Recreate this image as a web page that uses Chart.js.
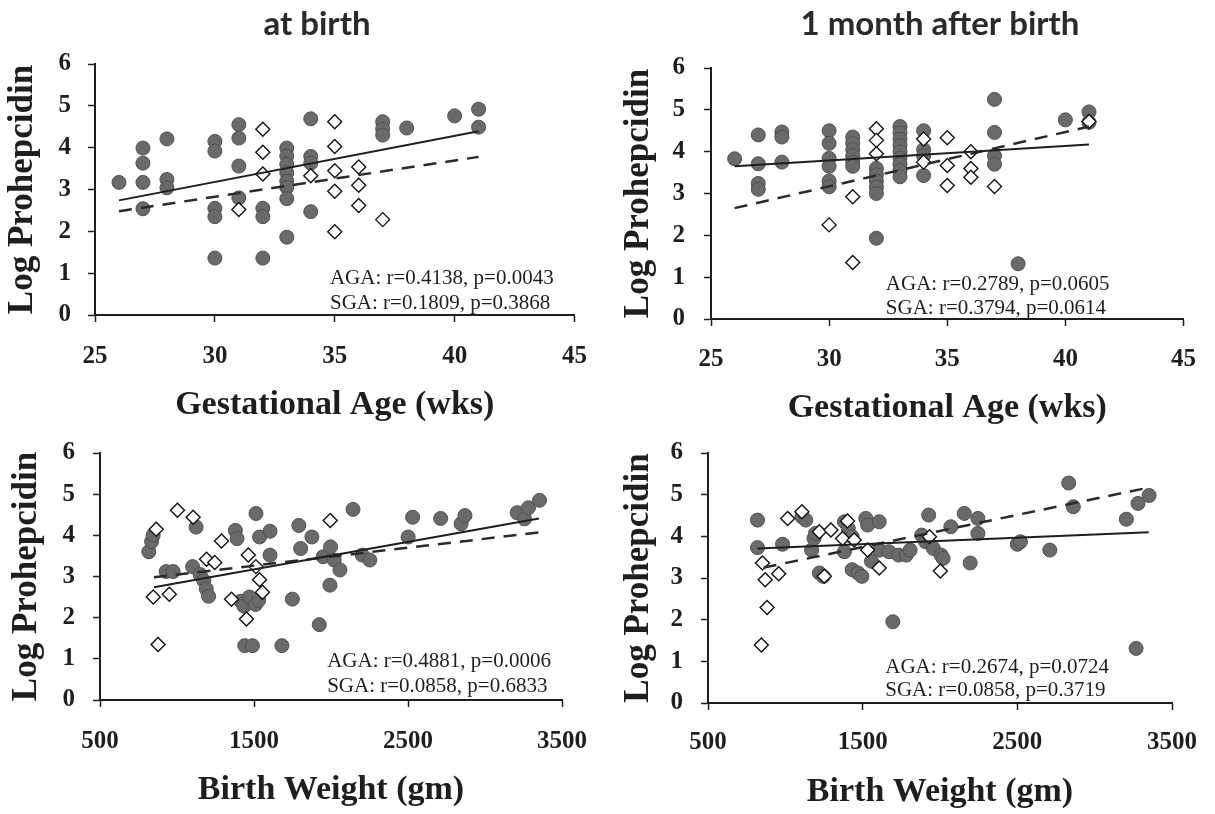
<!DOCTYPE html>
<html>
<head>
<meta charset="utf-8">
<script src="https://cdn.jsdelivr.net/npm/chart.js@4.4.1/dist/chart.umd.min.js"></script>
<style>
  html, body { margin: 0; padding: 0; background: #ffffff; }
  body { width: 1215px; height: 814px; position: relative; overflow: hidden; }
  canvas { position: absolute; }
</style>
</head>
<body>
<canvas id="c1" width="607" height="430" style="left:0px;top:0px;width:607px;height:430px"></canvas>
<canvas id="c2" width="608" height="430" style="left:607px;top:0px;width:608px;height:430px"></canvas>
<canvas id="c3" width="607" height="394" style="left:0px;top:420px;width:607px;height:394px"></canvas>
<canvas id="c4" width="608" height="394" style="left:607px;top:420px;width:608px;height:394px"></canvas>
<script>
// ---------- DATA ----------
const panelTitles = ['at birth', '1 month after birth'];
const yTitle = 'Log Prohepcidin';
const xTitleGA = 'Gestational Age (wks)';
const xTitleBW = 'Birth Weight (gm)';
const gaTicks = [25, 30, 35, 40, 45];
const bwTicks = [500, 1500, 2500, 3500];
const yTicks = [0, 1, 2, 3, 4, 5, 6];

// Panel 1: gestational age vs log prohepcidin at birth
const gaBirthAGA = [
  [26,3.17],
  [27,3.99],[27,3.63],[27,3.17],[27,2.54],
  [28,4.21],[28,3.24],[28,3.04],
  [30,4.15],[30,3.92],[30,2.55],[30,2.35],[30,1.36],
  [31,4.55],[31,4.23],[31,3.56],[31,2.80],
  [32,2.55],[32,2.35],[32,1.36],
  [33,3.99],[33,3.80],[33,3.60],[33,3.40],[33,3.20],[33,3.05],[33,2.78],[33,1.86],
  [34,4.69],[34,3.79],[34,3.63],[34,2.47],
  [37,4.62],[37,4.45],[37,4.30],
  [38,4.47],
  [40,4.76],
  [41,4.92],[41,4.49]
];
const gaBirthSGA = [
  [31,2.52],
  [32,4.44],[32,3.89],[32,3.37],
  [34,3.33],
  [35,4.62],[35,4.03],[35,3.45],[35,2.96],[35,1.99],
  [36,3.54],[36,3.10],[36,2.62],
  [37,2.28]
];
const gaBirthFitAGA = [[26,2.74],[41,4.39]];
const gaBirthFitSGA = [[26,2.48],[41,3.78]];
const gaBirthStats = ['AGA: r=0.4138, p=0.0043', 'SGA: r=0.1809, p=0.3868'];

// Panel 2: gestational age vs log prohepcidin 1 month after birth
const gaMonthAGA = [
  [26,3.83],
  [27,4.40],[27,3.71],[27,3.24],[27,3.10],
  [28,4.47],[28,4.35],[28,3.75],
  [30,4.50],[30,4.20],[30,3.84],[30,3.65],[30,3.30],[30,3.16],
  [31,4.35],[31,4.20],[31,4.05],[31,3.90],[31,3.75],[31,3.65],
  [32,3.60],[32,3.45],[32,3.30],[32,3.15],[32,3.00],[32,1.93],
  [33,4.60],[33,4.45],[33,4.30],[33,4.15],[33,4.00],[33,3.85],[33,3.70],[33,3.55],[33,3.40],
  [34,4.50],[34,4.05],[34,3.90],[34,3.43],
  [37,5.25],[37,4.46],[37,3.90],[37,3.70],
  [38,1.32],
  [40,4.76],
  [41,4.95],[41,4.70]
];
const gaMonthSGA = [
  [30,2.25],
  [31,2.92],[31,1.35],
  [32,4.55],[32,4.27],[32,3.95],
  [34,4.30],[34,3.75],
  [35,4.33],[35,3.67],[35,3.19],
  [36,4.00],[36,3.60],[36,3.39],
  [37,3.17],
  [41,4.72]
];
const gaMonthFitAGA = [[26,3.65],[41,4.17]];
const gaMonthFitSGA = [[26,2.65],[41,4.60]];
const gaMonthStats = ['AGA: r=0.2789, p=0.0605', 'SGA: r=0.3794, p=0.0614'];

// Panel 3: birth weight vs log prohepcidin at birth
const bwBirthAGA = [
  [817,3.60],[835,3.85],[845,4.00],[930,3.12],[975,3.12],
  [1101,3.24],[1124,4.20],[1150,3.05],[1174,2.90],[1190,2.70],[1205,2.52],
  [1379,4.12],[1390,3.92],[1415,2.40],[1435,2.28],[1470,2.50],[1510,2.32],[1530,2.42],
  [1440,1.32],[1490,1.32],[1513,4.53],[1536,3.96],[1604,4.10],[1604,3.52],
  [1681,1.32],[1749,2.45],[1791,4.24],[1803,3.68],[1876,3.96],[1924,1.83],
  [1949,3.48],[1997,3.72],[2021,3.40],[2058,3.16],[1993,2.79],
  [2143,4.63],[2203,3.52],[2252,3.40],[2501,3.96],[2530,4.44],[2712,4.41],
  [2845,4.28],[2870,4.48],[3209,4.55],[3257,4.40],[3282,4.67],[3354,4.85]
];
const bwBirthSGA = [
  [846,2.50],[877,1.35],[865,4.15],[950,2.57],[1003,4.61],[1105,4.44],
  [1192,3.42],[1245,3.34],[1289,3.86],[1354,2.45],[1451,1.97],[1463,3.52],
  [1512,3.24],[1536,2.92],[1555,2.62],[1995,4.36]
];
const bwBirthFitAGA = [[850,2.74],[3350,4.41]];
const bwBirthFitSGA = [[850,2.98],[3350,4.07]];
const bwBirthStats = ['AGA: r=0.4881, p=0.0006', 'SGA: r=0.0858, p=0.6833'];

// Panel 4: birth weight vs log prohepcidin 1 month after birth
const bwMonthAGA = [
  [820,4.39],[820,3.73],[982,3.81],[1107,4.47],[1132,4.39],[1170,3.67],[1185,3.95],[1195,4.07],
  [1220,3.12],[1245,3.04],[1382,4.35],[1407,4.19],[1432,3.99],[1382,3.63],[1432,3.20],
  [1470,3.12],[1495,3.04],[1520,4.43],[1532,4.27],[1607,4.35],[1557,3.40],[1607,3.67],
  [1670,3.63],[1732,3.55],[1782,3.55],[1807,3.67],[1695,1.95],[1882,4.03],[1907,3.87],
  [1927,4.51],[1957,3.71],[2007,3.55],[2020,3.47],[2070,4.23],[2157,4.55],[2195,3.36],
  [2245,4.43],[2245,4.07],[2500,3.81],[2520,3.87],[2710,3.67],[2832,5.28],[2862,4.71],
  [3205,4.41],[3268,1.31],[3280,4.79],[3352,4.98]
];
const bwMonthSGA = [
  [845,1.39],[882,2.29],[870,2.96],[852,3.36],[957,3.10],[1015,4.43],[1107,4.59],
  [1252,3.04],[1220,4.11],[1295,4.15],[1402,4.37],[1370,3.95],[1445,3.91],[1532,3.67],
  [1607,3.24],[2002,3.17],[1932,3.99]
];
const bwMonthFitAGA = [[820,3.71],[3350,4.10]];
const bwMonthFitSGA = [[860,3.25],[3350,5.17]];
const bwMonthStats = ['AGA: r=0.2674, p=0.0724', 'SGA: r=0.0858, p=0.3719'];

// ---------- RENDERING ----------
const INK = '#1e1e1e';
const SERIF = '"Liberation Serif", "Times New Roman", serif';
const toXY = arr => arr.map(p => ({x: p[0], y: p[1]}));

const panelTextPlugin = {
  id: 'panelText',
  afterDraw(chart, args, opts) {
    const ctx = chart.ctx;
    ctx.save();
    if (opts.title) {
      ctx.font = 'bold 33px Lato, "Open Sans", sans-serif';
      ctx.fillStyle = '#2a2a2a';
      ctx.textAlign = 'center';
      ctx.textBaseline = 'middle';
      ctx.fillText(opts.title.text, opts.title.x, opts.title.y);
    }
    if (opts.notes) {
      ctx.font = '21px ' + SERIF;
      ctx.fillStyle = INK;
      ctx.textAlign = 'left';
      ctx.textBaseline = 'middle';
      const xs = chart.scales.x, ys = chart.scales.y;
      opts.notes.lines.forEach((t, i) => {
        ctx.fillText(t, xs.getPixelForValue(opts.notes.x), ys.getPixelForValue(opts.notes.y[i]));
      });
    }
    ctx.restore();
  }
};

function makePanel(id, cfg) {
  const tickFont = {family: SERIF, size: 25, weight: 'bold'};
  const datasets = [
    {label: 'AGA fit', type: 'line', data: toXY(cfg.fitA), borderColor: INK, borderWidth: 2,
     pointRadius: 0, fill: false, order: 0},
    {label: 'SGA fit', type: 'line', data: toXY(cfg.fitS), borderColor: '#2a2a2a', borderWidth: 2.5,
     borderDash: [13, 9], pointRadius: 0, fill: false, order: 0},
    {label: 'SGA', data: toXY(cfg.sga), pointStyle: 'rectRot', pointRadius: 7,
     backgroundColor: '#ffffff', borderColor: '#111111', borderWidth: 1.4, order: 1},
    {label: 'AGA', data: toXY(cfg.aga), pointStyle: 'circle', pointRadius: 7,
     backgroundColor: '#6a6a6a', borderColor: '#505050', borderWidth: 1, order: 2}
  ];
  return new Chart(document.getElementById(id), {
    type: 'scatter',
    data: {datasets},
    plugins: [panelTextPlugin],
    options: {
      responsive: false,
      animation: false,
      events: [],
      layout: {padding: {top: cfg.padTop, right: cfg.padRight, left: 0, bottom: 0}},
      plugins: {
        legend: {display: false},
        tooltip: {enabled: false},
        title: {display: false},
        panelText: {title: cfg.title, notes: cfg.notes}
      },
      scales: {
        x: {
          type: 'linear', min: cfg.xTicks[0], max: cfg.xTicks[cfg.xTicks.length - 1],
          afterBuildTicks: s => { s.ticks = cfg.xTicks.map(v => ({value: v})); },
          afterFit: s => { s.height = cfg.xHeight; },
          ticks: {font: tickFont, color: INK, padding: cfg.xTickPad, maxRotation: 0, autoSkip: false,
                  callback: v => String(v)},
          grid: {drawOnChartArea: false, drawTicks: true, tickLength: 7, color: INK, tickColor: INK, tickWidth: 1.5},
          border: {display: true, color: INK, width: 2},
          title: {display: true, text: cfg.xTitle, color: INK,
                  font: {family: SERIF, size: 34, weight: 'bold'},
                  padding: {top: 0, bottom: cfg.xTitlePad}}
        },
        y: {
          type: 'linear', min: 0, max: 6,
          afterBuildTicks: s => { s.ticks = yTicks.map(v => ({value: v})); },
          afterFit: s => { s.width = cfg.yWidth; },
          ticks: {font: tickFont, color: INK, padding: cfg.yTickPad, callback: v => String(v)},
          grid: {drawOnChartArea: false, drawTicks: true, tickLength: 7, color: INK, tickColor: INK, tickWidth: 1.5},
          border: {display: true, color: INK, width: 2},
          title: {display: true, text: yTitle, color: INK,
                  font: {family: SERIF, size: 35, weight: 'bold'},
                  padding: {top: cfg.yTitlePad, bottom: 0}}
        }
      }
    }
  });
}

makePanel('c1', {
  aga: gaBirthAGA, sga: gaBirthSGA, fitA: gaBirthFitAGA, fitS: gaBirthFitSGA,
  xTicks: gaTicks, xTitle: xTitleGA,
  padTop: 64, padRight: 22, xHeight: 115, yWidth: 95,
  xTickPad: 20, yTickPad: 17, xTitlePad: 4.6, yTitlePad: 2,
  title: {text: panelTitles[0], x: 317, y: 24},
  notes: {lines: gaBirthStats, x: 34.8, y: [0.87, 0.27]}
});
makePanel('c2', {
  aga: gaMonthAGA, sga: gaMonthSGA, fitA: gaMonthFitAGA, fitS: gaMonthFitSGA,
  xTicks: gaTicks, xTitle: xTitleGA,
  padTop: 68, padRight: 16, xHeight: 111, yWidth: 104,
  xTickPad: 19, yTickPad: 19, xTitlePad: 1.6, yTitlePad: 11,
  title: {text: panelTitles[1], x: 333, y: 24},
  notes: {lines: gaMonthStats, x: 32.4, y: [0.82, 0.26]}
});
makePanel('c3', {
  aga: bwBirthAGA, sga: bwBirthSGA, fitA: bwBirthFitAGA, fitS: bwBirthFitSGA,
  xTicks: bwTicks, xTitle: xTitleBW,
  padTop: 27, padRight: 33, xHeight: 114, yWidth: 100,
  xTickPad: 20, yTickPad: 18, xTitlePad: 3.6, yTitlePad: 6,
  title: null,
  notes: {lines: bwBirthStats, x: 1975, y: [0.94, 0.34]}
});
makePanel('c4', {
  aga: bwMonthAGA, sga: bwMonthSGA, fitA: bwMonthFitAGA, fitS: bwMonthFitSGA,
  xTicks: bwTicks, xTitle: xTitleBW,
  padTop: 31, padRight: 36, xHeight: 111, yWidth: 101,
  xTickPad: 18, yTickPad: 18, xTitlePad: 1.6, yTitlePad: 11,
  title: null,
  notes: {lines: bwMonthStats, x: 1646, y: [0.86, 0.30]}
});
</script>
</body>
</html>
